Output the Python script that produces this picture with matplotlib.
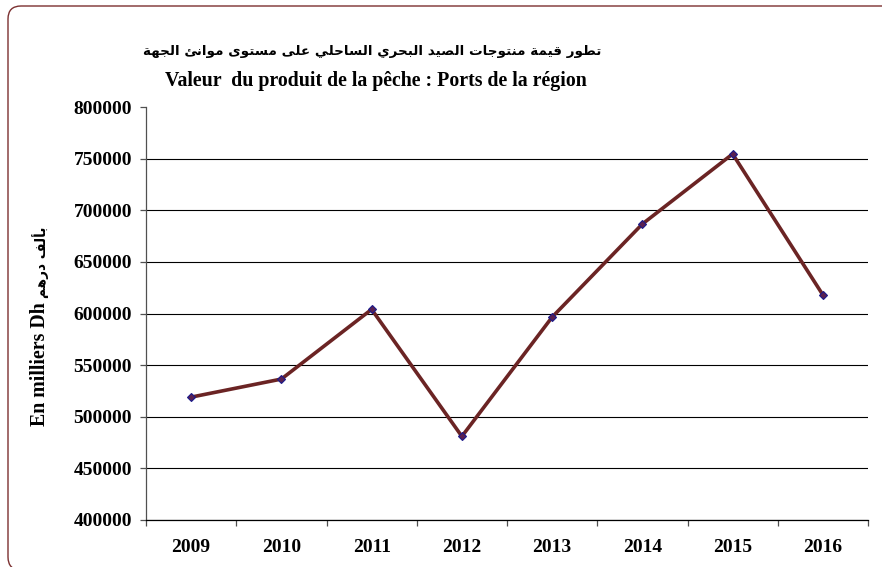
import matplotlib
matplotlib.use("Agg")
import matplotlib.pyplot as plt
from matplotlib.patches import FancyBboxPatch

# data
years = ["2009", "2010", "2011", "2012", "2013", "2014", "2015", "2016"]
values = [519000, 536500, 604000, 481000, 596500, 686700, 754500, 618000]
yticks = [400000, 450000, 500000, 550000, 600000, 650000, 700000, 750000, 800000]

title_ar = "تطور قيمة منتوجات الصيد البحري الساحلي على مستوى موانئ الجهة"
title_fr = "Valeur  du produit de la pêche : Ports de la région"
ylabel_fr = "En milliers Dh"
ylabel_ar = "بألف درهم"

# minimal arabic shaping: (isolated, final, initial, medial)
FORMS = {
    "ء": (0xFE80, None, None, None),
    "آ": (0xFE81, 0xFE82, None, None),
    "أ": (0xFE83, 0xFE84, None, None),
    "ؤ": (0xFE85, 0xFE86, None, None),
    "إ": (0xFE87, 0xFE88, None, None),
    "ئ": (0xFE89, 0xFE8A, 0xFE8B, 0xFE8C),
    "ا": (0xFE8D, 0xFE8E, None, None),
    "ب": (0xFE8F, 0xFE90, 0xFE91, 0xFE92),
    "ة": (0xFE93, 0xFE94, None, None),
    "ت": (0xFE95, 0xFE96, 0xFE97, 0xFE98),
    "ث": (0xFE99, 0xFE9A, 0xFE9B, 0xFE9C),
    "ج": (0xFE9D, 0xFE9E, 0xFE9F, 0xFEA0),
    "ح": (0xFEA1, 0xFEA2, 0xFEA3, 0xFEA4),
    "خ": (0xFEA5, 0xFEA6, 0xFEA7, 0xFEA8),
    "د": (0xFEA9, 0xFEAA, None, None),
    "ذ": (0xFEAB, 0xFEAC, None, None),
    "ر": (0xFEAD, 0xFEAE, None, None),
    "ز": (0xFEAF, 0xFEB0, None, None),
    "س": (0xFEB1, 0xFEB2, 0xFEB3, 0xFEB4),
    "ش": (0xFEB5, 0xFEB6, 0xFEB7, 0xFEB8),
    "ص": (0xFEB9, 0xFEBA, 0xFEBB, 0xFEBC),
    "ض": (0xFEBD, 0xFEBE, 0xFEBF, 0xFEC0),
    "ط": (0xFEC1, 0xFEC2, 0xFEC3, 0xFEC4),
    "ظ": (0xFEC5, 0xFEC6, 0xFEC7, 0xFEC8),
    "ع": (0xFEC9, 0xFECA, 0xFECB, 0xFECC),
    "غ": (0xFECD, 0xFECE, 0xFECF, 0xFED0),
    "ف": (0xFED1, 0xFED2, 0xFED3, 0xFED4),
    "ق": (0xFED5, 0xFED6, 0xFED7, 0xFED8),
    "ك": (0xFED9, 0xFEDA, 0xFEDB, 0xFEDC),
    "ل": (0xFEDD, 0xFEDE, 0xFEDF, 0xFEE0),
    "م": (0xFEE1, 0xFEE2, 0xFEE3, 0xFEE4),
    "ن": (0xFEE5, 0xFEE6, 0xFEE7, 0xFEE8),
    "ه": (0xFEE9, 0xFEEA, 0xFEEB, 0xFEEC),
    "و": (0xFEED, 0xFEEE, None, None),
    "ى": (0xFEEF, 0xFEF0, None, None),
    "ي": (0xFEF1, 0xFEF2, 0xFEF3, 0xFEF4),
}


def shape(text):
    """Pick contextual forms and return the text in visual order."""
    out = []
    n = len(text)
    for i, ch in enumerate(text):
        f = FORMS.get(ch)
        if f is None:
            out.append(ch)
            continue
        prev = FORMS.get(text[i - 1]) if i > 0 else None
        nxt = FORMS.get(text[i + 1]) if i < n - 1 else None
        join_prev = prev is not None and prev[2] is not None and f[1] is not None
        join_next = nxt is not None and f[2] is not None and nxt[1] is not None
        if join_prev and join_next:
            code = f[3]
        elif join_prev:
            code = f[1]
        elif join_next:
            code = f[2]
        else:
            code = f[0]
        out.append(chr(code))
    return "".join(out)[::-1]


fig = plt.figure(figsize=(8.82, 5.67), dpi=100)
fig.patch.set_facecolor("white")

# rounded frame of the chart area
frame = FancyBboxPatch((8, -3), 900, 564, boxstyle="round,pad=0,rounding_size=13",
                       transform=None, facecolor="none", edgecolor="#7B3030",
                       linewidth=1.0)
fig.patches.append(frame)

ax = fig.add_axes([146 / 882, 47 / 567, 722 / 882, 413 / 567])
x = list(range(len(years)))
ax.plot(x, values, color="#6B2424", linewidth=2.6, marker="D", markersize=4,
        markerfacecolor="#5A2050", markeredgecolor="#1A1A8C", markeredgewidth=0.8,
        zorder=3)

ax.set_xlim(-0.5, len(years) - 0.5)
ax.set_ylim(400000, 800000)
ax.set_yticks(yticks)
ax.set_yticklabels([str(v) for v in yticks])
ax.set_xticks(x)
ax.set_xticklabels(years)
ax.set_xticks([i + 0.5 for i in range(-1, len(years))], minor=True)

ax.yaxis.grid(True, color="black", linewidth=0.8)
ax.get_ygridlines()[-1].set_visible(False)
ax.set_axisbelow(True)

for s in ["top", "right"]:
    ax.spines[s].set_visible(False)
ax.spines["left"].set_color("#505050")
ax.spines["left"].set_linewidth(0.9)
ax.spines["bottom"].set_color("black")
ax.spines["bottom"].set_linewidth(0.9)

ax.tick_params(axis="x", which="major", length=0, pad=14)
ax.tick_params(axis="x", which="minor", length=4, width=0.9, color="#505050")
ax.tick_params(axis="y", length=4, width=0.9, color="#505050", pad=6)
for lab in ax.get_xticklabels() + ax.get_yticklabels():
    lab.set_fontfamily("Liberation Serif")
    lab.set_fontweight("bold")
    lab.set_fontsize(14)

# titles
fig.text(372 / 882, 1 - 52 / 567, shape(title_ar), ha="center", va="center",
         family="DejaVu Sans", weight="bold", fontsize=9.7)
fig.text(376 / 882, 1 - 81 / 567, title_fr, ha="center", va="center",
         family="Liberation Serif", weight="bold", fontsize=14.3)

# y label: french part then arabic part above it
fig.text(40 / 882, 1 - 364 / 567, ylabel_fr, rotation=90, ha="center", va="center",
         family="Liberation Serif", weight="bold", fontsize=14.3)
fig.text(41 / 882, 1 - 262 / 567, shape(ylabel_ar), rotation=90, ha="center",
         va="center", family="DejaVu Sans", weight="bold", fontsize=9.8)

fig.savefig("out.png", dpi=100)
